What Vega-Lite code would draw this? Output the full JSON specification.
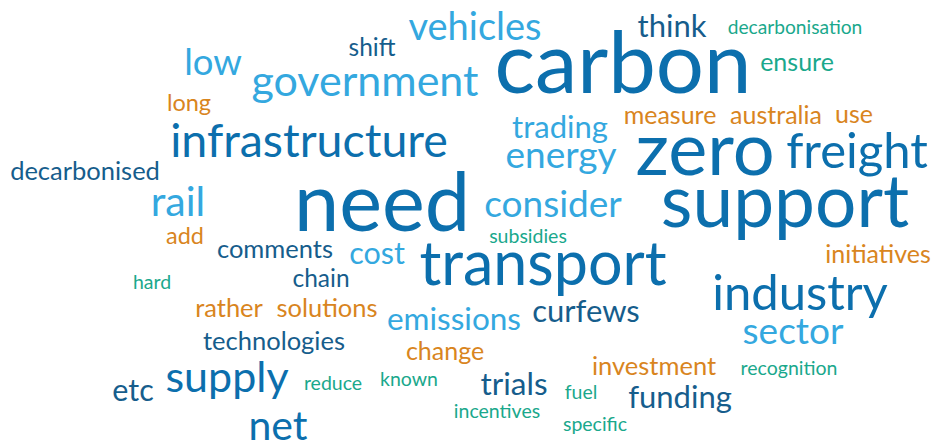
{
  "$schema": "https://vega.github.io/schema/vega-lite/v6.json",
  "width": 935,
  "height": 448,
  "autosize": {"type": "fit", "contains": "padding"},
  "padding": 0,
  "background": "white",
  "config": {"view": {"stroke": null}},
  "data": {
    "values": [
      {"word": "carbon", "x": 623, "y": 94, "count": 85, "group": "b"},
      {"word": "need", "x": 382, "y": 234, "count": 81, "group": "b"},
      {"word": "support", "x": 785, "y": 230, "count": 73, "group": "b"},
      {"word": "zero", "x": 705, "y": 177, "count": 74, "group": "b"},
      {"word": "transport", "x": 543, "y": 288, "count": 61, "group": "b"},
      {"word": "infrastructure", "x": 309, "y": 159, "count": 46.5, "group": "b"},
      {"word": "industry", "x": 800, "y": 314, "count": 49, "group": "b"},
      {"word": "freight", "x": 857, "y": 170, "count": 49, "group": "b"},
      {"word": "supply", "x": 227, "y": 396, "count": 43, "group": "b"},
      {"word": "net", "x": 278, "y": 445, "count": 41, "group": "b"},
      {"word": "government", "x": 365, "y": 97, "count": 43, "group": "l"},
      {"word": "vehicles", "x": 475, "y": 40, "count": 38, "group": "l"},
      {"word": "low", "x": 213, "y": 76, "count": 36.5, "group": "l"},
      {"word": "rail", "x": 178, "y": 218, "count": 41, "group": "l"},
      {"word": "trading", "x": 560, "y": 140, "count": 31, "group": "l"},
      {"word": "energy", "x": 561, "y": 170, "count": 37, "group": "l"},
      {"word": "consider", "x": 553, "y": 219, "count": 37, "group": "l"},
      {"word": "cost", "x": 377, "y": 267, "count": 30.5, "group": "l"},
      {"word": "emissions", "x": 454, "y": 334, "count": 31.5, "group": "l"},
      {"word": "sector", "x": 793, "y": 348, "count": 37, "group": "l"},
      {"word": "shift", "x": 372, "y": 57, "count": 24.5, "group": "d"},
      {"word": "think", "x": 672, "y": 37, "count": 31, "group": "d"},
      {"word": "decarbonised", "x": 85, "y": 182, "count": 25.5, "group": "d"},
      {"word": "comments", "x": 275, "y": 261, "count": 25.5, "group": "d"},
      {"word": "chain", "x": 321, "y": 290, "count": 24.5, "group": "d"},
      {"word": "technologies", "x": 274, "y": 354, "count": 25.5, "group": "d"},
      {"word": "etc", "x": 133, "y": 406, "count": 30.5, "group": "d"},
      {"word": "trials", "x": 514, "y": 399, "count": 31.5, "group": "d"},
      {"word": "funding", "x": 680, "y": 413, "count": 31, "group": "d"},
      {"word": "curfews", "x": 586, "y": 326, "count": 31, "group": "d"},
      {"word": "long", "x": 189, "y": 112, "count": 23.5, "group": "o"},
      {"word": "measure", "x": 670, "y": 125, "count": 25, "group": "o"},
      {"word": "australia", "x": 776, "y": 125, "count": 25, "group": "o"},
      {"word": "use", "x": 854, "y": 124, "count": 25, "group": "o"},
      {"word": "add", "x": 185, "y": 247, "count": 23.5, "group": "o"},
      {"word": "rather", "x": 229, "y": 321, "count": 25.5, "group": "o"},
      {"word": "solutions", "x": 327, "y": 321, "count": 25.5, "group": "o"},
      {"word": "change", "x": 445, "y": 364, "count": 25, "group": "o"},
      {"word": "investment", "x": 654, "y": 379, "count": 25.5, "group": "o"},
      {"word": "initiatives", "x": 878, "y": 266, "count": 25, "group": "o"},
      {"word": "decarbonisation", "x": 795, "y": 34, "count": 19.2, "group": "g"},
      {"word": "ensure", "x": 797, "y": 72, "count": 25, "group": "g"},
      {"word": "hard", "x": 152, "y": 292, "count": 19.5, "group": "g"},
      {"word": "subsidies", "x": 528, "y": 246, "count": 19.5, "group": "g"},
      {"word": "reduce", "x": 333, "y": 394, "count": 19.5, "group": "g"},
      {"word": "known", "x": 409, "y": 390, "count": 19.5, "group": "g"},
      {"word": "recognition", "x": 789, "y": 379, "count": 19.5, "group": "g"},
      {"word": "fuel", "x": 581, "y": 404, "count": 19.5, "group": "g"},
      {"word": "incentives", "x": 497, "y": 423, "count": 19.5, "group": "g"},
      {"word": "specific", "x": 595, "y": 436, "count": 19.5, "group": "g"}
    ]
  },
  "mark": {"type": "text", "font": "Lato", "align": "center", "baseline": "alphabetic"},
  "encoding": {
    "x": {"field": "x", "type": "quantitative", "scale": {"domain": [0, 935]}, "axis": null},
    "y": {"field": "y", "type": "quantitative", "scale": {"domain": [0, 448], "reverse": true}, "axis": null},
    "text": {"field": "word"},
    "size": {"field": "count", "type": "quantitative", "scale": {"type": "linear", "domain": [0, 100], "range": [0, 100]}, "legend": null},
    "color": {"field": "group", "type": "nominal", "scale": {"domain": ["b", "l", "d", "o", "g"], "range": ["#0c6fad", "#34a8df", "#165d8c", "#d9851e", "#1aa88c"]}, "legend": null}
  }
}
